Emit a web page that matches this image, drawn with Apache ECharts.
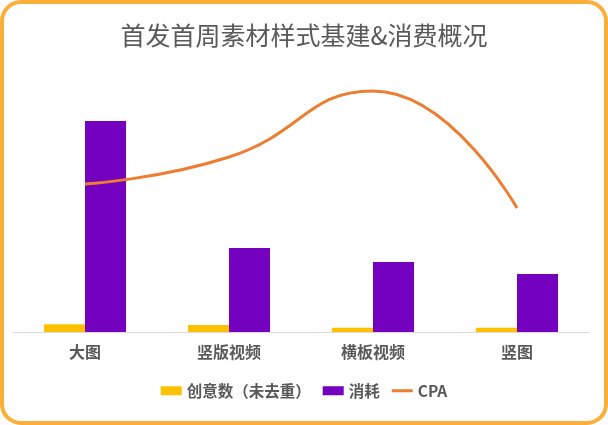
<!DOCTYPE html>
<html>
<head>
<meta charset="utf-8">
<script src="https://cdn.jsdelivr.net/npm/echarts@6/dist/echarts.min.js"></script>
<style>
html,body{margin:0;padding:0;background:#fff;}
#c{width:608px;height:425px;}
</style>
</head>
<body>
<div id="c"></div>
<script>
var categories = ['大图', '竖版视频', '横板视频', '竖图'];
var creativeCount = [7.7, 7.0, 4.3, 4.3];
var spend = [211, 84, 70, 58];
var cpa = [148, 175, 241, 124];
var titleText = '首发首周素材样式基建&消费概况';
var seriesNames = ['创意数（未去重）', '消耗', 'CPA'];

var font = "'Noto Sans CJK SC', 'Noto Sans', sans-serif";
var chart = echarts.init(document.getElementById('c'));
chart.setOption({
  animation: false,
  textStyle: {fontFamily: font},
  title: {
    text: titleText,
    left: 'center',
    top: 18,
    textStyle: {fontSize: 25, fontWeight: 'normal', color: '#595959', fontFamily: font}
  },
  legend: {
    data: [
      {name: seriesNames[0], icon: 'rect'},
      {name: seriesNames[1], icon: 'rect'},
      {name: seriesNames[2], icon: 'path://M0,0 L21,0 L21,3 L0,3 Z'}
    ],
    left: 'center',
    top: 378,
    itemWidth: 21,
    itemHeight: 9,
    itemGap: 12,
    textStyle: {fontSize: 15.5, fontWeight: 'bold', color: '#595959', fontFamily: font}
  },
  graphic: [{
    type: 'rect',
    shape: {x: 2, y: 2, width: 604, height: 421, r: 19},
    style: {fill: 'none', stroke: '#FAAF38', lineWidth: 4},
    silent: true,
    z: 100
  }],
  grid: {left: 13, right: 19, top: 60, bottom: 93, containLabel: false},
  xAxis: {
    type: 'category',
    data: categories,
    axisLine: {lineStyle: {color: '#D9D9D9', width: 1}},
    axisTick: {show: false},
    axisLabel: {fontSize: 16, fontWeight: 'bold', color: '#595959', margin: 12, fontFamily: font}
  },
  yAxis: [
    {type: 'value', min: 0, max: 272, show: false, splitLine: {show: false}},
    {type: 'value', min: 0, max: 272, show: false, splitLine: {show: false}}
  ],
  series: [
    {
      name: seriesNames[0], type: 'bar', data: creativeCount,
      barGap: '0%', barCategoryGap: '43%',
      itemStyle: {color: '#FFC000'}
    },
    {
      name: seriesNames[1], type: 'bar', data: spend,
      barGap: '0%', barCategoryGap: '43%',
      itemStyle: {color: '#7400C0'}
    },
    {
      name: seriesNames[2], type: 'line', data: cpa, yAxisIndex: 1,
      smooth: 0.5, symbol: 'none',
      lineStyle: {color: '#ED7D31', width: 3},
      itemStyle: {color: '#ED7D31'}
    }
  ]
});
</script>
</body>
</html>
